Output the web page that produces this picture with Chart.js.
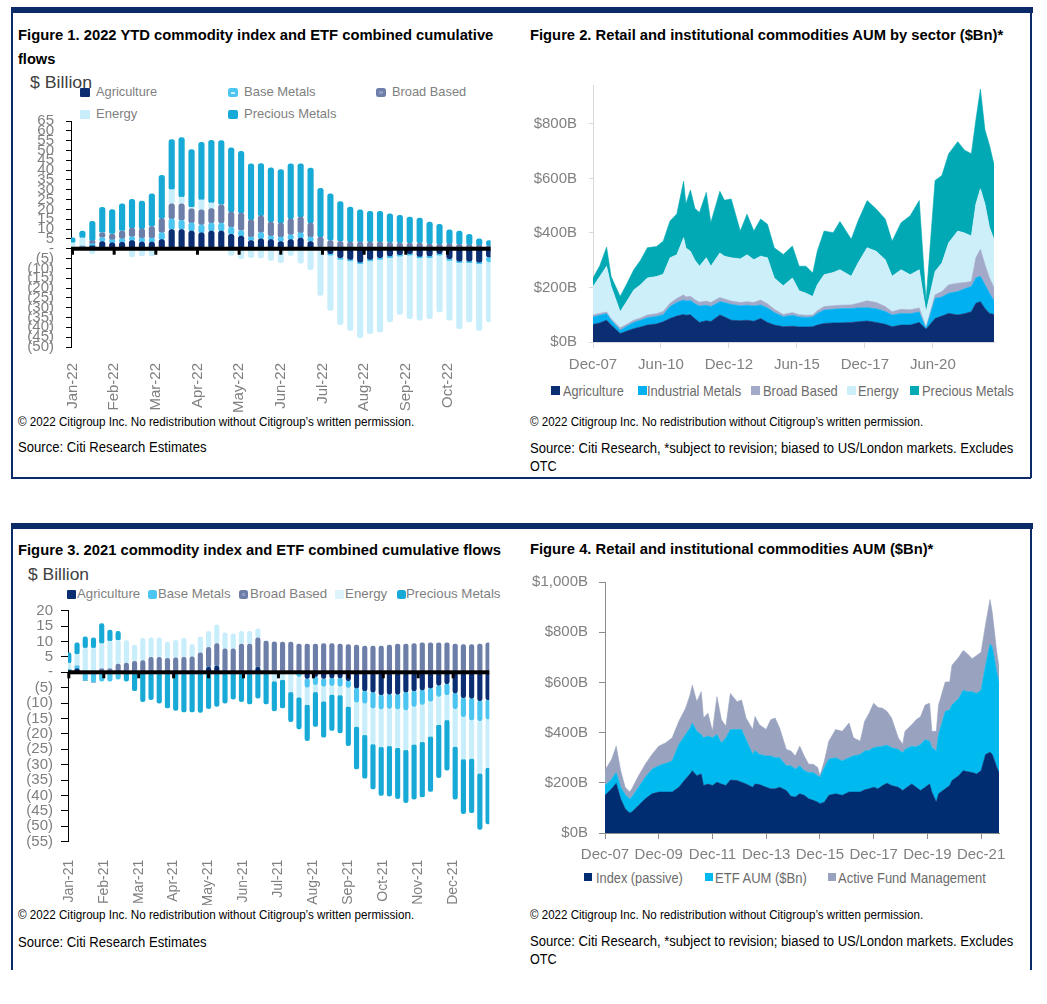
<!DOCTYPE html>
<html>
<head>
<meta charset="utf-8">
<title>Commodity flows and AUM</title>
<script src="https://cdn.jsdelivr.net/npm/chart.js@4.4.1/dist/chart.umd.min.js"></script>
<style>
  html, body { margin: 0; padding: 0; background: #fff; }
  body { position: relative; width: 1047px; height: 1004px; overflow: hidden;
         font-family: "Liberation Sans", Arial, sans-serif; }
  .t { position: absolute; white-space: nowrap; line-height: 1.15; transform-origin: 0 50%; }
  .title { font-size: 15px; font-weight: bold; color: #000; }
  .unit { font-size: 16px; color: #404040; }
  .lg { font-size: 13px; color: #7f7f7f; }
  .lg2 { font-size: 15px; color: #6b6b6b; }
  .note { font-size: 12px; color: #000; }
  .src { font-size: 14px; color: #000; }
  .rule { position: absolute; background: #0b2a68; }
  .sq { position: absolute; }
  canvas { position: absolute; }
</style>
</head>
<body>

<!-- frames -->
<div class="rule" style="left:11px;top:7px;width:1022px;height:6px"></div>
<div class="rule" style="left:11px;top:13px;width:1.5px;height:465px"></div>
<div class="rule" style="left:1029.5px;top:13px;width:2px;height:465px"></div>
<div class="rule" style="left:11px;top:477px;width:1020px;height:2px"></div>
<div class="rule" style="left:11px;top:523px;width:1022px;height:6px"></div>
<div class="rule" style="left:11px;top:529px;width:1.5px;height:441px"></div>
<div class="rule" style="left:1029.5px;top:529px;width:2px;height:441px"></div>

<!-- Figure 1 texts -->
<div class="t title" data-x="18" data-cy="34" data-w="475">Figure 1. 2022 YTD commodity index and ETF combined cumulative</div>
<div class="t title" data-x="18" data-cy="58" data-w="37">flows</div>
<div class="t unit" data-x="30" data-cy="83" data-w="62">$ Billion</div>
<div class="sq" style="left:80px;top:88px;width:10px;height:9px;background:#0b2d71;border-radius:1px"></div>
<div class="t lg" data-x="96" data-cy="92" data-w="61">Agriculture</div>
<div class="sq" style="left:228px;top:88px;width:10px;height:9px;background:#4cc6f0;border-radius:2.5px"><div style="position:absolute;left:3px;top:4px;width:4px;height:1.5px;background:rgba(255,255,255,.7)"></div></div>
<div class="t lg" data-x="244" data-cy="92" data-w="72">Base Metals</div>
<div class="sq" style="left:376px;top:88px;width:10px;height:9px;background:#6d7ea9;border-radius:2.5px"><div style="position:absolute;left:3px;top:3px;width:4px;height:3px;background:#8d9bc2"></div></div>
<div class="t lg" data-x="392" data-cy="92" data-w="74">Broad Based</div>
<div class="sq" style="left:80px;top:110px;width:10px;height:9px;background:#c9eefb;border-radius:1px"></div>
<div class="t lg" data-x="96" data-cy="114" data-w="41">Energy</div>
<div class="sq" style="left:228px;top:110px;width:10px;height:9px;background:#17aad6;border-radius:2px"></div>
<div class="t lg" data-x="244" data-cy="114" data-w="92">Precious Metals</div>
<div class="t note" data-x="18" data-cy="423" data-w="396">© 2022 Citigroup Inc. No redistribution without Citigroup’s written permission.</div>
<div class="t src" data-x="18" data-cy="447" data-w="189">Source: Citi Research Estimates</div>

<!-- Figure 2 texts -->
<div class="t title" data-x="530" data-cy="34" data-w="473">Figure 2. Retail and institutional commodities AUM by sector ($Bn)*</div>
<div class="sq" style="left:551px;top:386px;width:9px;height:9px;background:#0b2d71"></div>
<div class="t lg2" data-x="563" data-cy="390" data-w="61">Agriculture</div>
<div class="sq" style="left:638px;top:386px;width:9px;height:9px;background:#00b0f0"></div>
<div class="t lg2" data-x="647" data-cy="390" data-w="94">Industrial Metals</div>
<div class="sq" style="left:751px;top:386px;width:9px;height:9px;background:#a3a9c9"></div>
<div class="t lg2" data-x="763" data-cy="390" data-w="75">Broad Based</div>
<div class="sq" style="left:847px;top:386px;width:9px;height:9px;background:#cdeffa"></div>
<div class="t lg2" data-x="858" data-cy="390" data-w="41">Energy</div>
<div class="sq" style="left:910px;top:386px;width:9px;height:9px;background:#00a9b4"></div>
<div class="t lg2" data-x="922" data-cy="390" data-w="92">Precious Metals</div>
<div class="t note" data-x="530" data-cy="423" data-w="393">© 2022 Citigroup Inc. No redistribution without Citigroup’s written permission.</div>
<div class="t src" data-x="530" data-cy="448" data-w="483">Source: Citi Research, *subject to revision; biased to US/London markets. Excludes</div>
<div class="t src" data-x="530" data-cy="466" data-w="27">OTC</div>

<!-- Figure 3 texts -->
<div class="t title" data-x="18" data-cy="549" data-w="483">Figure 3. 2021 commodity index and ETF combined cumulative flows</div>
<div class="t unit" data-x="28" data-cy="575" data-w="61">$ Billion</div>
<div class="sq" style="left:66.5px;top:590px;width:9px;height:9px;background:#0b2d71;border-radius:1px"></div>
<div class="t lg" data-x="77" data-cy="594" data-w="63">Agriculture</div>
<div class="sq" style="left:147.5px;top:590px;width:9px;height:9px;background:#4cc6f0;border-radius:2.5px"></div>
<div class="t lg" data-x="158" data-cy="594" data-w="73">Base Metals</div>
<div class="sq" style="left:239px;top:590px;width:9px;height:9px;background:#6d7ea9;border-radius:2.5px"><div style="position:absolute;left:3px;top:3px;width:3px;height:3px;background:#8d9bc2"></div></div>
<div class="t lg" data-x="250" data-cy="594" data-w="77">Broad Based</div>
<div class="sq" style="left:335px;top:590px;width:9px;height:9px;background:#ddf4fc"></div>
<div class="t lg" data-x="345" data-cy="594" data-w="42">Energy</div>
<div class="sq" style="left:396.5px;top:590px;width:9px;height:9px;background:#17aad6;border-radius:2.5px"></div>
<div class="t lg" data-x="406" data-cy="594" data-w="94">Precious Metals</div>
<div class="t note" data-x="18" data-cy="916" data-w="396">© 2022 Citigroup Inc. No redistribution without Citigroup’s written permission.</div>
<div class="t src" data-x="18" data-cy="941.5" data-w="189">Source: Citi Research Estimates</div>

<!-- Figure 4 texts -->
<div class="t title" data-x="530" data-cy="548" data-w="403">Figure 4. Retail and institutional commodities AUM ($Bn)*</div>
<div class="sq" style="left:584px;top:873px;width:8px;height:8px;background:#002d72"></div>
<div class="t lg2" data-x="596" data-cy="877" data-w="87">Index (passive)</div>
<div class="sq" style="left:705px;top:873px;width:8px;height:8px;background:#00b9ee"></div>
<div class="t lg2" data-x="715" data-cy="877" data-w="92">ETF AUM ($Bn)</div>
<div class="sq" style="left:828px;top:873px;width:8px;height:8px;background:#99a3bf"></div>
<div class="t lg2" data-x="838" data-cy="877" data-w="148">Active Fund Management</div>
<div class="t note" data-x="530" data-cy="916" data-w="393">© 2022 Citigroup Inc. No redistribution without Citigroup’s written permission.</div>
<div class="t src" data-x="530" data-cy="941" data-w="483">Source: Citi Research, *subject to revision; biased to US/London markets. Excludes</div>
<div class="t src" data-x="530" data-cy="959" data-w="27">OTC</div>

<canvas id="fig1" width="490" height="317" style="left:14px;top:99px"></canvas>
<canvas id="fig2" width="490" height="322" style="left:520px;top:63px"></canvas>
<canvas id="fig3" width="490" height="315" style="left:14px;top:590px"></canvas>
<canvas id="fig4" width="493" height="309" style="left:520px;top:561px"></canvas>

<script>
// ---- Figure 1: 2022 YTD weekly cumulative flows ($bn) ----
const fig1Months = ['Jan-22', 'Feb-22', 'Mar-22', 'Apr-22', 'May-22', 'Jun-22', 'Jul-22', 'Aug-22', 'Sep-22', 'Oct-22'];
const fig1Agriculture = [0, 0.5, 1.5, 3.7, 3, 3.2, 4.1, 3.4, 3.4, 4.6, 9.8, 9.8, 9, 8.1, 9, 9, 7.3, 6.4, 4.2, 5.1,
  4.6, 3.7, 4.6, 5.4, 3.7, -0.5, -2.5, -4.6, -5.4, -6.8, -5.4, -4.6, -3.7, -3, -2.5, -3.9, -3.7, -2.5, -5.1, -6.3, -6.3, -6.8, -4.2];
const fig1BaseMetals = [0.3, 0.5, 1, 2, 1.5, 1.9, 2, 2, 2, 3.6, 5.4, 4.6, 4.2, 4.1, 4.1, 4.1, 3.7, 2.9, 1.7, 3.1,
  1.9, 2.2, 2.5, 2.7, 2.2, 0.8, -0.8, -0.8, -0.8, -0.8, -0.8, -0.8, -0.8, -0.8, -0.8, -0.8, -0.8, -0.8, -0.8, -0.8, -0.8, -0.8, -2.5];
const fig1BroadBased = [0, 0.3, 1.5, 2.4, 3, 3.9, 4.4, 4.7, 5.9, 7.1, 7.6, 8.5, 7.1, 7.6, 7.3, 9.3, 7.6, 8.8, 8.8, 8.5,
  7.1, 7.1, 8.1, 8, 7.1, 5.1, 4.2, 3.7, 3.4, 3.4, 3.4, 3.4, 3.1, 2.9, 2.9, 2.9, 2.4, 2.2, 2.5, 2.2, 2, 1.7, 1.5];
const fig1Energy = [2.7, 4.2, -2.5, 0, 0, 0, -4.2, -3.7, -3.7, -0.5, 7.3, 3.4, 0.8, 5.1, 2.9, 0, -3.4, -5.1, -4.6, -4.7,
  -5.9, -7.1, -3.4, -7.3, -10.7, -23.2, -28.1, -33.2, -35.3, -37.7, -37, -37, -32.8, -29.6, -32.3, -31.7, -31.1, -28.9, -30.5, -33.6, -30.2, -33.9, -30.6];
const fig1Precious = [2.5, 3.5, 10, 13, 12.4, 13.9, 14.6, 14.1, 16.6, 22, 25.4, 30.2, 29.3, 29.3, 31.9, 32.7, 32.7, 31.5, 28.5, 26.6,
  27.6, 27.3, 28, 27.1, 28.1, 24.9, 23.7, 20.3, 17.8, 16.4, 15.6, 15.6, 14.7, 14.1, 13.2, 12.7, 11.2, 10.2, 7.1, 6.8, 5.3, 3.4, 2.7];

// ---- Figure 3: 2021 weekly cumulative flows ($bn) ----
const fig3Months = ['Jan-21', 'Feb-21', 'Mar-21', 'Apr-21', 'May-21', 'Jun-21', 'Jul-21', 'Aug-21', 'Sep-21', 'Oct-21', 'Nov-21', 'Dec-21'];
const fig3Agriculture = [0.5, 1.1, 0, 0, 0, 0, 0, 0, 0, 0, 0, 0, 0, 0, 0, 0, 0, 1.6, 2, 0, 0, 0, 0, 1.6, 0, 0,
  0, 0, 0, -2, -1.3, -2, -1.8, -1.8, -2.7, -5.1, -6, -6.4, -7.3, -7.1, -7.1, -6.4, -6, -5.7, -5.1, -4.2, -3.7, -6.7, -8.2, -8.4, -9.2, -8.9];
const fig3BaseMetals = [0.5, 0.9, -2.7, -3.2, -2.9, -2.9, -2.2, 0, 0, 0, 0, 0, 0, 0, 0, 0, 0, 0, 0, 0, 0, 0, 0, 0, 0, 0,
  0, 0, -1.3, -2.8, -2.7, -2.5, -2.5, -2.7, -2.2, -4.6, -4, -5.2, -4.6, -4.6, -4.8, -5.8, -5.1, -4.7, -4.3, -3.6, -3.6, -5.1, -6.2, -7.1, -6.5, -6.2];
const fig3BroadBased = [0, 0, 0, 0, 1.1, 1.1, 2.7, 3, 3.6, 3.8, 4.9, 4.9, 4.5, 4.7, 4.9, 5, 6.3, 6.5, 7.3, 7.6, 7.6, 9.2, 9.2, 9.6, 10.1, 9.9,
  9.8, 9.8, 9.2, 9.2, 9.2, 9.3, 9.3, 9.2, 9, 8.8, 8.5, 8.5, 8.5, 8.8, 9.2, 9.2, 9.3, 9.6, 9.6, 9.6, 9.6, 9.2, 9, 9, 9.2, 9.6];
const fig3Energy = [2, 3.8, 7.9, 7.9, 8.2, 9, 7.7, 7.3, 5.2, 7.2, 6.3, 6.3, 5.3, 5.7, 6.1, 4, 5.2, 5.2, 6.1, 5.2, 4.9, 4.1, 4.1, 2.9, 0, -2.9,
  -2.4, -6.4, -6.8, -5.7, -2.4, -4.9, -2.9, -2.9, -6.2, -7.9, -10.3, -11.7, -12.3, -12.2, -12.6, -13, -12.3, -12.2, -11.4, -9.2, -8.2, -12.3, -13.8, -12.5, -17.1, -15.9];
const fig3Precious = [3.3, 3.8, 3.6, 3.3, 6.5, 3.6, 2.9, -2.9, -6, -9.5, -8.9, -10, -11.6, -12.4, -12.9, -12.9, -13, -11.8, -11.1, -10, -8.7, -9.5, -10.3, -8.4, -10.3, -9.6,
  -9.2, -9.6, -10.3, -11.7, -11.2, -11.7, -11.7, -12.3, -12.7, -13.8, -14.1, -14.6, -15.8, -16.3, -16.5, -17.1, -17.8, -17.9, -17.9, -17.2, -16.3, -17.1, -17.7, -17.6, -18.2, -18.2];

// ---- Figure 2: AUM by sector ($bn), x = months after Dec-07 ----
const fig2Months = [0, 3, 6, 8, 12, 15, 18, 21, 24, 28, 31, 34, 37, 40, 41, 43, 45, 47, 50, 52, 56, 58, 61, 65, 68, 71, 74, 77, 80, 84,
  88, 91, 94, 97, 99, 102, 106, 109, 114, 117, 121, 125, 129, 132, 136, 140, 144, 147, 151, 154, 157, 161, 164, 167, 169, 171, 173, 175, 177];
const fig2TickMonths = [0, 30, 60, 90, 120, 150];
const fig2TickLabels = ['Dec-07', 'Jun-10', 'Dec-12', 'Jun-15', 'Dec-17', 'Jun-20'];
const fig2YTicks = [0, 200, 400, 600, 800];
const fig2Agriculture = [64, 70, 80, 62, 31, 40, 49, 55, 62, 66, 74, 86, 95, 101, 98, 100, 85, 72, 78, 75, 99, 92, 80, 78, 80, 76, 86, 72, 62, 56,
  58, 55, 55, 56, 62, 68, 70, 70, 72, 74, 77, 72, 65, 56, 62, 62, 72, 47, 86, 95, 105, 99, 104, 111, 142, 148, 123, 105, 101];
const fig2Industrial = [28, 28, 24, 18, 12, 18, 23, 25, 27, 28, 26, 44, 50, 53, 52, 52, 55, 60, 57, 55, 49, 53, 58, 55, 55, 56, 50, 53, 46, 37,
  40, 37, 35, 36, 43, 49, 50, 52, 51, 51, 49, 50, 47, 43, 43, 42, 38, 2, 74, 70, 74, 86, 91, 93, 93, 93, 87, 74, 50];
const fig2BroadBased = [7, 7, 6, 5, 9, 7, 8, 8, 10, 10, 12, 12, 15, 19, 15, 16, 15, 14, 15, 15, 15, 13, 12, 12, 13, 13, 18, 15, 12, 8,
  10, 8, 8, 7, 10, 13, 13, 13, 13, 17, 25, 23, 18, 12, 15, 14, 15, 3, 13, 20, 31, 31, 23, 18, 74, 99, 74, 56, 49];
const fig2Energy = [105, 135, 168, 120, 59, 85, 111, 122, 136, 136, 137, 167, 160, 210, 180, 165, 145, 132, 159, 133, 164, 157, 159, 160, 172, 157, 161, 169, 115, 105,
  127, 88, 81, 68, 95, 117, 122, 130, 105, 148, 195, 188, 172, 130, 145, 129, 140, 58, 86, 105, 154, 191, 182, 167, 197, 222, 222, 185, 177];
const fig2Precious = [31, 40, 70, 35, 56, 65, 74, 90, 111, 110, 121, 135, 150, 207, 161, 225, 190, 197, 240, 160, 226, 205, 216, 102, 149, 105, 136, 123, 111, 115,
  117, 90, 99, 86, 123, 160, 146, 177, 136, 154, 173, 155, 149, 129, 173, 216, 254, 40, 334, 321, 327, 328, 304, 302, 309, 366, 272, 302, 273];

// ---- Figure 4: AUM by type ($bn), x = months after Dec-07 ----
const fig4Months = [0, 3, 5, 7, 9, 11, 12, 15, 18, 21, 24, 27, 30, 33, 36, 38, 39, 41, 43, 44, 46, 48, 50, 52, 54, 56, 59, 61, 63, 66,
  67, 69, 72, 74, 76, 78, 81, 83, 85, 87, 89, 91, 93, 95, 96, 98, 100, 103, 106, 109, 111, 114, 116, 118, 120, 122, 124, 126, 128, 131,
  133, 134, 137, 139, 141, 143, 145, 146, 148, 149, 152, 154, 155, 158, 160, 162, 164, 166, 168, 170, 172, 173, 175, 176];
const fig4TickMonths = [0, 24, 48, 72, 96, 120, 144, 168];
const fig4TickLabels = ['Dec-07', 'Dec-09', 'Dec-11', 'Dec-13', 'Dec-15', 'Dec-17', 'Dec-19', 'Dec-21'];
const fig4Index = [150, 176, 198, 136, 97, 80, 84, 110, 136, 156, 163, 163, 163, 182, 215, 235, 248, 228, 235, 189, 195, 189, 202, 195, 189, 211, 209, 202, 195, 182,
  195, 193, 182, 176, 176, 182, 169, 146, 143, 156, 150, 136, 130, 123, 117, 123, 150, 156, 150, 163, 163, 163, 172, 176, 182, 176, 189, 198, 189, 182,
  169, 176, 195, 182, 169, 182, 195, 163, 123, 156, 176, 189, 209, 228, 248, 244, 241, 235, 248, 313, 322, 313, 262, 241];
const fig4Etf = [39, 39, 43, 46, 56, 56, 59, 72, 86, 98, 105, 114, 124, 171, 177, 183, 190, 177, 157, 190, 191, 190, 190, 164, 190, 201, 203, 210, 177, 131,
  134, 120, 125, 131, 124, 118, 99, 122, 111, 112, 98, 105, 111, 105, 105, 138, 144, 144, 137, 137, 144, 150, 155, 153, 158, 167, 157, 152, 151, 151,
  151, 157, 151, 161, 184, 190, 171, 177, 204, 236, 308, 302, 301, 308, 321, 319, 322, 321, 321, 355, 431, 428, 378, 361];
const fig4Active = [61, 79, 105, 66, 29, 27, 33, 46, 52, 59, 78, 82, 92, 92, 105, 132, 151, 118, 171, 79, 91, 26, 151, 92, 46, 144, 111, 118, 86, 99,
  135, 118, 105, 144, 158, 118, 65, 59, 53, 78, 59, 33, 33, 33, 6, 26, 72, 112, 118, 138, 72, 53, 118, 148, 177, 157, 151, 134, 118, 46,
  33, 72, 85, 108, 111, 138, 151, 65, 78, 118, 118, 111, 158, 164, 158, 150, 131, 151, 151, 163, 177, 136, 80, 59];
const fig4YTicks = [0, 200, 400, 600, 800, 1000];

// ---- layout of HTML texts ----
document.querySelectorAll('.t').forEach(el => {
  el.style.left = el.dataset.x + 'px';
  el.style.top = (el.dataset.cy - el.offsetHeight / 2) + 'px';
  if (el.dataset.w) el.style.transform = 'scaleX(' + (el.dataset.w / el.offsetWidth) + ')';
});

Chart.defaults.font.family = '"Liberation Sans", Arial, sans-serif';
Chart.defaults.color = '#808080';
Chart.defaults.animation = false;

const flowTick = v => v === 0 ? '-' : (v < 0 ? '(' + (-v) + ')' : String(v));
const pts = (xs, ys) => ys.map((v, i) => ({x: xs[i], y: v}));
const idx = ys => ys.map((v, i) => ({x: i, y: v}));

// thick zero line drawn above the bars, with small month ticks under it
const zeroLine = {
  id: 'zeroLine',
  afterDatasetsDraw(chart) {
    const {ctx, chartArea, scales: {x, y}} = chart;
    const y0 = y.getPixelForValue(0);
    ctx.save();
    ctx.fillStyle = '#000';
    ctx.fillRect(chartArea.left, y0 - 2, chartArea.right - chartArea.left, 4);
    x.ticks.forEach(t => ctx.fillRect(x.getPixelForValue(t.value) - 1.5, y0, 3, 6));
    ctx.restore();
  }
};

const flowColors = ['#0b2d71', '#4cc6f0', '#6d7ea9', '#c9eefb', '#17aad6'];
const flowNames = ['Agriculture', 'Base Metals', 'Broad Based', 'Energy', 'Precious Metals'];

function flowChart(id, series, months, cfg) {
  const n = series[0].length;
  return new Chart(document.getElementById(id), {
    type: 'bar',
    data: {
      datasets: series.map((s, k) => ({
        label: flowNames[k], data: idx(s), backgroundColor: flowColors[k],
        borderWidth: 0, borderSkipped: false, barThickness: cfg.bar,
        borderRadius: {topLeft: cfg.r, topRight: cfg.r, bottomLeft: cfg.r, bottomRight: cfg.r}
      }))
    },
    options: {
      responsive: false,
      layout: {padding: {top: cfg.top, right: cfg.right, left: 0, bottom: 0}},
      plugins: {legend: {display: false}, tooltip: {enabled: false}},
      scales: {
        x: {
          type: 'linear', stacked: true, offset: false, min: -cfg.lead, max: n - 1 + cfg.tail,
          grid: {display: false}, border: {display: false},
          afterBuildTicks: s => { s.ticks = months.map((m, i) => ({value: i * (n - 1) / months.length})); },
          afterFit: s => { s.height = cfg.xh; },
          ticks: {autoSkip: false, minRotation: 90, maxRotation: 90, padding: cfg.xpad, color: '#808080',
                  font: {size: cfg.xfont}, callback: (v, i) => months[i]}
        },
        y: {
          stacked: true, min: cfg.min, max: cfg.max,
          grid: {drawOnChartArea: false, tickLength: cfg.tick, color: '#000'},
          border: {color: '#000', width: 1},
          afterFit: s => { s.width = cfg.yw; },
          ticks: {stepSize: 5, autoSkip: false, padding: cfg.ypad, color: '#808080', font: {size: 15}, callback: flowTick}
        }
      }
    },
    plugins: [zeroLine]
  });
}

flowChart('fig1', [fig1Agriculture, fig1BaseMetals, fig1BroadBased, fig1Energy, fig1Precious], fig1Months,
  {bar: 5.5, r: 2.5, top: 22, right: 13.4, lead: 0.15, tail: 0.15, xh: 69, xpad: 8, xfont: 15,
   min: -50, max: 65, tick: 5, yw: 57, ypad: 12});

flowChart('fig3', [fig3Agriculture, fig3BaseMetals, fig3BroadBased, fig3Energy, fig3Precious], fig3Months,
  {bar: 4.5, r: 2.2, top: 20.7, right: 14.7, lead: 0.1, tail: 0.15, xh: 63.3, xpad: 10, xfont: 14,
   min: -55, max: 20, tick: 7, yw: 54, ypad: 8});

function areaChart(id, months, series, names, colors, cfg) {
  return new Chart(document.getElementById(id), {
    type: 'line',
    data: {
      datasets: series.map((s, k) => ({
        label: names[k], data: pts(months, s), fill: k === 0 ? 'origin' : '-1',
        backgroundColor: colors[k], borderColor: colors[k], borderWidth: 0.6,
        pointRadius: 0, tension: 0
      }))
    },
    options: {
      responsive: false,
      layout: {padding: {top: cfg.top, right: cfg.right, left: 0, bottom: 0}},
      plugins: {legend: {display: false}, tooltip: {enabled: false}},
      scales: {
        x: {
          type: 'linear', min: 0, max: months[months.length - 1],
          grid: {drawOnChartArea: false, tickLength: 6, color: cfg.axis},
          border: {color: cfg.axis},
          afterBuildTicks: s => { s.ticks = cfg.xticks.map(v => ({value: v})); },
          afterFit: s => { s.height = cfg.xh; },
          ticks: {autoSkip: false, maxRotation: 0, padding: cfg.xpad, color: '#808080', font: {size: 15},
                  callback: (v, i) => cfg.xlabels[i]}
        },
        y: {
          stacked: true, min: 0, max: cfg.max,
          grid: {drawOnChartArea: false, tickLength: cfg.tick, color: cfg.axis},
          border: {color: cfg.axis},
          afterBuildTicks: s => { s.ticks = cfg.yticks.map(v => ({value: v})); },
          afterFit: s => { s.width = cfg.yw; },
          ticks: {autoSkip: false, padding: cfg.ypad, color: '#808080', font: {size: 15},
                  callback: v => '$' + v.toLocaleString('en-US') + 'B'}
        }
      }
    }
  });
}

areaChart('fig2', fig2Months,
  [fig2Agriculture, fig2Industrial, fig2BroadBased, fig2Energy, fig2Precious],
  ['Agriculture', 'Industrial Metals', 'Broad Based', 'Energy', 'Precious Metals'],
  ['#0b2d71', '#00b0f0', '#a3a9c9', '#cdeffa', '#00a9b4'],
  {top: 22, right: 16, xh: 43, xpad: 8, yw: 73, ypad: 12, tick: 4, max: 943, axis: '#d9d9d9',
   xticks: fig2TickMonths, xlabels: fig2TickLabels, yticks: fig2YTicks});

areaChart('fig4', fig4Months,
  [fig4Index, fig4Etf, fig4Active],
  ['Index (passive)', 'ETF AUM ($Bn)', 'Active Fund Management'],
  ['#002d72', '#00b9ee', '#99a3bf'],
  {top: 21, right: 14, xh: 37, xpad: 7, yw: 85, ypad: 11, tick: 6, max: 1000, axis: '#8c8c8c',
   xticks: fig4TickMonths, xlabels: fig4TickLabels, yticks: fig4YTicks});
</script>
</body>
</html>
